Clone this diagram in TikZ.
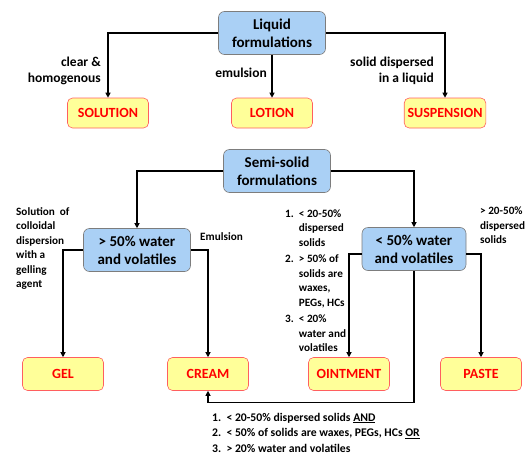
\documentclass[tikz,border=0pt]{standalone}
\usepackage{fontspec}
\setmainfont{Carlito}
\usetikzlibrary{arrows.meta}
\definecolor{boxBlue}{RGB}{170,208,245}
\definecolor{boxGrey}{RGB}{125,125,125}
\definecolor{boxYellow}{RGB}{255,255,153}
\definecolor{boxRed}{RGB}{255,95,95}
\definecolor{txtRed}{RGB}{255,0,0}

\begin{document}
\begin{tikzpicture}[x=1pt, y=-1pt,
  group/.style={draw=boxGrey, fill=boxBlue, rounded corners=6pt, align=center,
    minimum width=107pt, minimum height=43pt, line width=0.6pt,
    font=\fontsize{15}{18}\selectfont\bfseries},
  kind/.style={draw=boxRed, fill=boxYellow, rounded corners=5pt, text=txtRed,
    minimum width=81pt, minimum height=30pt, line width=0.6pt,
    font=\fontsize{14}{17}\selectfont\bfseries},
  lab/.style={font=\fontsize{13.5}{16}\selectfont\bfseries, align=right, inner sep=0pt},
  note/.style={font=\fontsize{11.2}{14.5}\selectfont\bfseries, align=left,
    inner sep=0pt, anchor=north west},
  link/.style={-{Triangle[length=5pt,width=5pt]}, line width=1.1pt},
]
  \useasboundingbox (0,0) rectangle (526,455);

  % liquid formulations
  \node[group] (liquid) at (272,33) {Liquid\\formulations};
  \node[kind] (solution) at (108,113) {SOLUTION};
  \node[kind] (lotion) at (272,113) {LOTION};
  \node[kind] (suspension) at (445,113) {SUSPENSION};

  \node[lab, anchor=east] (clear) at (101,71) {clear \&\\homogenous};
  \node[lab, anchor=east] (emul) at (267,73) {emulsion};
  \node[lab, anchor=east] (dispersed) at (434,71) {solid dispersed\\in a liquid};

  \draw[link] (liquid.west) -| (solution.north);
  \draw[link] (liquid.south) -- (lotion.north);
  \draw[link] (liquid.east) -| (suspension.north);

  % semi-solid formulations
  \node[group] (semisolid) at (277,171) {Semi-solid\\formulations};
  \node[group] (highwater) at (137,250) {> 50\% water\\and volatiles};
  \node[group, minimum width=104pt] (lowwater) at (414,249) {< 50\% water\\and volatiles};

  \node[kind, minimum height=33pt] (gel) at (63,374) {GEL};
  \node[kind, minimum height=33pt] (cream) at (208,374) {CREAM};
  \node[kind, minimum height=33pt] (ointment) at (349,374) {OINTMENT};
  \node[kind, minimum height=33pt] (paste) at (481,374) {PASTE};

  \node[note] (gelnote) at (16,207)
    {Solution\ \ of\\colloidal\\dispersion\\with a\\gelling\\agent};
  \node[note, anchor=west] (creamnote) at (200,237) {Emulsion};
  \node[note] (ointnote) at (285,207)
    {\begin{tabular}{@{}l@{\ \ }l@{}}
     1. & < 20-50\% \\ & dispersed \\ & solids \\[2pt]
     2. & > 50\% of \\ & solids are \\ & waxes, \\ & PEGs, HCs \\[2pt]
     3. & < 20\% \\ & water and \\ & volatiles
     \end{tabular}};
  \node[note] (pastenote) at (480,207) {> 20-50\%\\dispersed\\solids};
  \node[note, font=\fontsize{11.7}{15.5}\selectfont\bfseries] (creamlist) at (212,410)
    {\begin{tabular}{@{}l@{\ \ }l@{}}
     1. & < 20-50\% dispersed solids \underline{AND} \\
     2. & < 50\% of solids are waxes, PEGs, HCs \underline{OR} \\
     3. & > 20\% water and volatiles
     \end{tabular}};

  \draw[link] (semisolid.west) -| (highwater.north);
  \draw[link] (semisolid.east) -| (lowwater.north);
  \draw[link] (highwater.west) -| (gel.north);
  \draw[link] (highwater.east) -| (cream.north);
  \draw[link] ([yshift=-5pt]lowwater.west) -| (ointment.north);
  \draw[link] ([yshift=-5pt]lowwater.east) -| (paste.north);
  \draw[link] (lowwater.south) -- ++(0,132) -| (cream.south);
\end{tikzpicture}
\end{document}
